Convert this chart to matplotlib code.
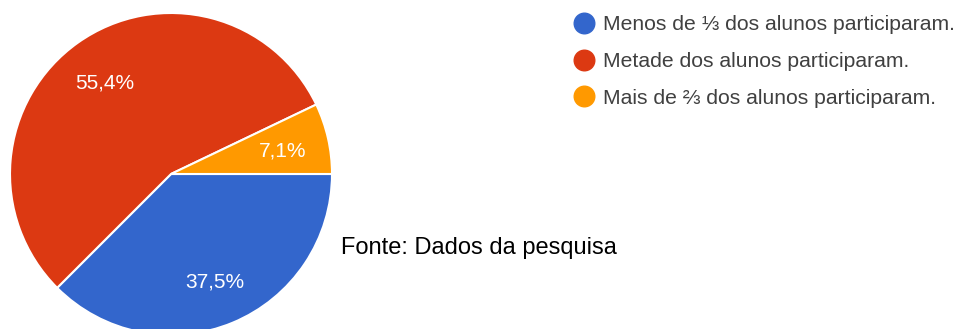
import numpy as np
import matplotlib.pyplot as plt

labels = ["Menos de ⅓ dos alunos participaram.",
          "Metade dos alunos participaram.",
          "Mais de ⅔ dos alunos participaram."]
values = [37.5, 55.4, 7.1]
pct_text = ["37,5%", "55,4%", "7,1%"]
colors = ["#3366cc", "#dc3912", "#ff9900"]
source = "Fonte: Dados da pesquisa"

W, H = 965, 329
fig = plt.figure(figsize=(W / 100, H / 100), dpi=100)
ax = fig.add_axes([0, 0, 1, 1])
fonts = ["Liberation Sans", "DejaVu Sans"]

cx, cy, r = 171, H - 174, 161
wedges, _ = ax.pie(values, colors=colors, startangle=0, counterclock=False,
                   center=(cx, cy), radius=r,
                   wedgeprops=dict(edgecolor="white", linewidth=1.5))

# percentage labels inside each slice (baseline sits half a cap height below)
for w, t in zip(wedges, pct_text):
    ang = np.deg2rad((w.theta1 + w.theta2) / 2)
    ax.text(cx + 0.71 * r * np.cos(ang), cy + 0.71 * r * np.sin(ang) - 7.5, t,
            color="white", fontsize=15, ha="center", va="baseline",
            family=fonts)

ax.set_xlim(0, W)
ax.set_ylim(0, H)
ax.set_aspect("equal")
ax.axis("off")

# legend drawn by hand at top right
for i, (lab, c) in enumerate(zip(labels, colors)):
    y = H - 23 - i * 36.5
    ax.scatter([584], [y], s=220, color=c, clip_on=False, zorder=3)
    ax.text(603, y - 7.5, lab, fontsize=15.2, color="#404040", va="baseline",
            ha="left", family=fonts)

ax.text(341, H - 254, source, fontsize=17, color="black", va="baseline",
        ha="left", family=fonts)

fig.savefig("out.png", dpi=100)
